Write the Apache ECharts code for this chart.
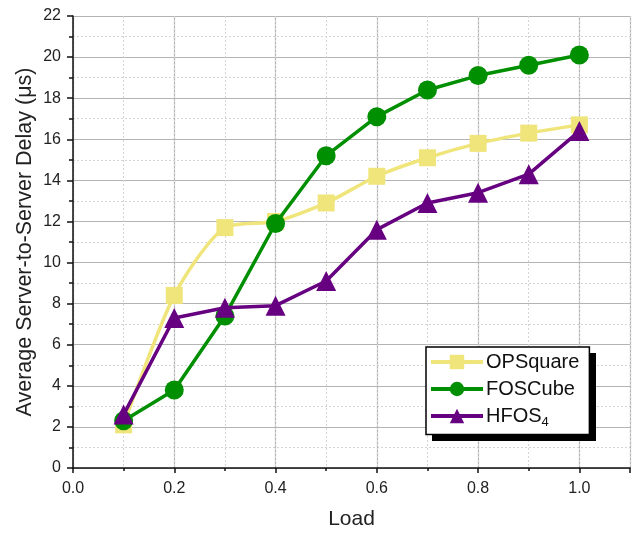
<!DOCTYPE html>
<html>
<head>
<meta charset="utf-8">
<script src="https://cdn.jsdelivr.net/npm/echarts@6/dist/echarts.min.js"></script>
<style>
  html, body { margin: 0; padding: 0; background: #fff; }
  #chart { width: 634px; height: 535px; }
</style>
</head>
<body>
<div id="chart"></div>
<script>
// 数据
const loads = [0.1, 0.2, 0.3, 0.4, 0.5, 0.6, 0.7, 0.8, 0.9, 1.0];
const opsquare = [2.1, 8.4, 11.7, 12.0, 12.9, 14.2, 15.1, 15.8, 16.3, 16.7];
const foscube = [2.3, 3.8, 7.4, 11.9, 15.2, 17.1, 18.4, 19.1, 19.6, 20.1];
const hfos4 = [2.6, 7.3, 7.8, 7.9, 9.1, 11.6, 12.9, 13.4, 14.3, 16.4];
const seriesNames = ['OPSquare', 'FOSCube', 'HFOS4'];

const font = 'Liberation Sans, Arial, sans-serif';

function pairs(ys) {
  return loads.map((x, i) => [x, ys[i]]);
}

const chart = echarts.init(document.getElementById('chart'));

chart.setOption({
  animation: false,
  textStyle: { fontFamily: font },
  grid: { left: 73, top: 16, right: 4, bottom: 65 },
  // 图例阴影
  graphic: [{
    type: 'rect',
    left: 432,
    top: 353,
    z: 10,
    shape: { width: 164, height: 88 },
    style: { fill: '#000' }
  }],
  legend: {
    orient: 'vertical',
    left: 426,
    top: 347,
    z: 20,
    padding: [5, 10, 6, 3],
    itemGap: 7,
    itemWidth: 52,
    itemHeight: 18,
    backgroundColor: '#fff',
    borderColor: '#000',
    borderWidth: 1.5,
    borderRadius: 0,
    lineStyle: { width: 4 },
    data: seriesNames,
    formatter: function (name) {
      return name === 'HFOS4' ? 'HFOS{sub|4}' : name;
    },
    textStyle: {
      fontSize: 20,
      color: '#111',
      fontFamily: font,
      padding: [0, 0, 0, -2],
      rich: {
        sub: { fontSize: 13, fontFamily: font, color: '#111', verticalAlign: 'bottom', padding: [12, 0, 0, 0] }
      }
    }
  },
  xAxis: [
    {
      // 标签
      type: 'value',
      position: 'bottom',
      min: 0,
      max: 1.1,
      interval: 0.1,
      name: 'Load',
      nameLocation: 'middle',
      nameGap: 41,
      nameMoveOverlap: false,
      nameTextStyle: { fontSize: 21, color: '#222', fontFamily: font },
      axisLine: { show: true, onZero: false, lineStyle: { color: '#111', width: 1.5 } },
      axisTick: { show: false },
      axisLabel: {
        fontSize: 16, color: '#222', margin: 13,
        showMaxLabel: false,
        formatter: function (v) {
          const k = Math.round(v * 10);
          return k % 2 === 0 ? v.toFixed(1) : '';
        }
      },
      splitLine: { show: false }
    },
    {
      // 主网格线 + 主刻度
      type: 'value',
      position: 'bottom',
      min: 0,
      max: 1.1,
      interval: 0.2,
      axisLine: { show: false, onZero: false },
      axisTick: { show: true, length: 5, lineStyle: { color: '#111', width: 1.5 } },
      axisLabel: { show: false },
      splitLine: { show: true, lineStyle: { color: '#b4b4b4', width: 1.2 } }
    },
    {
      // 次网格线 + 次刻度
      type: 'value',
      position: 'bottom',
      min: 0,
      max: 1.1,
      interval: 0.1,
      axisLine: { show: false, onZero: false },
      axisTick: { show: true, length: 3, lineStyle: { color: '#111', width: 1.5 } },
      axisLabel: { show: false },
      splitLine: { show: true, lineStyle: { color: '#d4d4d4', width: 1, type: [2, 2] } }
    }
  ],
  yAxis: {
    type: 'value',
    min: 0,
    max: 22,
    interval: 2,
    name: 'Average Server-to-Server Delay (μs)',
    nameLocation: 'middle',
    nameGap: 37,
    nameMoveOverlap: false,
    nameTextStyle: { fontSize: 21.5, color: '#222', fontFamily: font },
    axisLine: { show: true, lineStyle: { color: '#111', width: 1.5 } },
    axisTick: { show: true, length: 6, lineStyle: { color: '#111', width: 1.5 } },
    minorTick: { show: true, splitNumber: 2, length: 4, lineStyle: { color: '#111', width: 1.5 } },
    axisLabel: { fontSize: 16, color: '#222', margin: 12 },
    splitLine: { show: true, lineStyle: { color: '#b4b4b4', width: 1.2 } },
    minorSplitLine: { show: true, lineStyle: { color: '#d4d4d4', width: 1, type: [2, 2] } }
  },
  series: [
    {
      name: 'OPSquare',
      type: 'line',
      xAxisIndex: 0,
      data: pairs(opsquare),
      smooth: 0.25,
      symbol: 'rect',
      symbolSize: 17,
      color: '#efe57a',
      lineStyle: { width: 3.5, color: '#efe57a' },
      itemStyle: { color: '#efe57a' },
      z: 3
    },
    {
      name: 'FOSCube',
      type: 'line',
      xAxisIndex: 0,
      data: pairs(foscube),
      symbol: 'circle',
      symbolSize: 19,
      color: '#008f00',
      lineStyle: { width: 3.5, color: '#008f00' },
      itemStyle: { color: '#008f00' },
      z: 4
    },
    {
      name: 'HFOS4',
      type: 'line',
      xAxisIndex: 0,
      data: pairs(hfos4),
      symbol: 'triangle',
      symbolSize: 20,
      color: '#660080',
      lineStyle: { width: 3.5, color: '#660080' },
      itemStyle: { color: '#660080' },
      z: 5
    }
  ]
});
</script>
</body>
</html>
